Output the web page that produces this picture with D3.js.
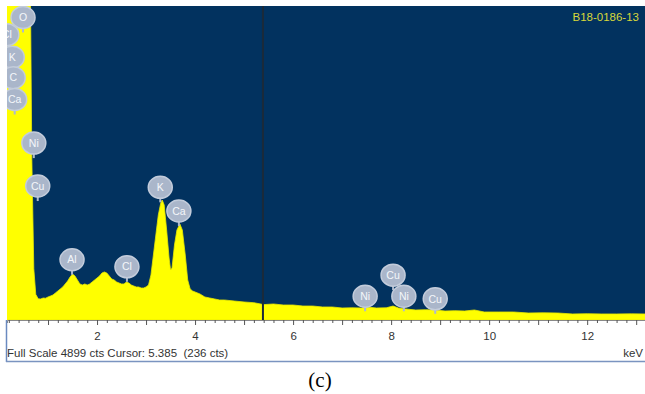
<!DOCTYPE html>
<html>
<head>
<meta charset="utf-8">
<script src="https://cdn.jsdelivr.net/npm/d3@7"></script>
<style>
  body { margin: 0; background: #fff; }
  svg { display: block; }
</style>
</head>
<body>
<svg></svg>
<script>
// spectrum (keV, counts)
const energies = [0.15, 0.25, 0.4, 0.52, 0.6, 0.64, 0.67, 0.71, 0.75, 0.8,
  0.85, 0.9, 0.95, 1.0, 1.05, 1.1, 1.15, 1.2, 1.25, 1.3, 1.35, 1.4, 1.45, 1.5,
  1.55, 1.6, 1.65, 1.7, 1.75, 1.8, 1.85, 1.9, 1.95, 2.0, 2.05, 2.1, 2.15, 2.2,
  2.25, 2.3, 2.35, 2.4, 2.45, 2.5, 2.55, 2.6, 2.65, 2.7, 2.75, 2.8, 2.85, 2.9,
  2.95, 3.0, 3.05, 3.1, 3.15, 3.2, 3.25, 3.3, 3.33, 3.37, 3.42, 3.47, 3.5, 3.53,
  3.58, 3.63, 3.69, 3.74, 3.8, 3.85, 3.9, 3.95, 4.0, 4.1, 4.2, 4.3, 4.4, 4.5,
  4.6, 4.8, 5.0, 5.2, 5.4, 5.6, 5.8, 6.0, 6.2, 6.4, 6.6, 6.8, 7.0, 7.2, 7.4,
  7.5, 7.7, 7.9, 8.04, 8.15, 8.3, 8.5, 8.7, 8.9, 9.1, 9.3, 9.5, 9.7, 9.9, 10.2,
  10.5, 10.8, 11.1, 11.4, 11.7, 12.0, 12.3, 12.6, 12.9, 13.2];
const counts = [5200, 7000, 9000, 12000, 7000, 5200, 2500, 800, 400, 330,
  328, 343, 340, 359, 374, 390, 421, 452, 484, 515, 562, 608, 671, 718,
  686, 624, 562, 546, 562, 546, 562, 593, 624, 655, 686, 733, 749, 733,
  686, 640, 624, 593, 577, 562, 562, 593, 577, 546, 530, 515, 515, 499,
  499, 515, 546, 702, 1014, 1326, 1638, 1825, 1872, 1794, 1404, 967, 780, 811,
  1170, 1404, 1498, 1404, 1014, 624, 484, 452, 437, 406, 359, 343, 328, 312,
  312, 296, 281, 270, 240, 250, 234, 234, 218, 218, 203, 203, 187, 190, 187,
  203, 187, 190, 218, 187, 172, 156, 160, 156, 140, 145, 140, 156, 125, 125,
  125, 109, 112, 109, 94, 98, 94, 94, 96, 94];

// element markers
const markerNames = ["O", "Cl", "K", "C", "Ca", "Ni", "Cu", "Al", "Cl", "K", "Ca", "Ni", "Cu", "Ni", "Cu"];
const markerEnergies = [0.49, 0.16, 0.27, 0.29, 0.32, 0.71, 0.79, 1.49, 2.61, 3.29, 3.67, 7.47, 8.04, 8.26, 8.9];
const markerHeights = [4720, 4450, 4100, 3780, 3440, 2760, 2090, 940, 830, 2070, 1700, 370, 700, 370, 330];

const majorTicks = [1, 2, 3, 4, 5, 6, 7, 8, 9, 10, 11, 12, 13];
const tickLabels = [2, 4, 6, 8, 10, 12];

const fullScale = 4899;
const cursorKeV = 5.385;

const w = 645, h = 394;
const plot = { left: 7, right: 645, top: 6, bottom: 320 };

const svg = d3.select("svg").attr("width", w).attr("height", h);

const xScale = d3.scaleLinear().domain([0.163, 13.18]).range([plot.left, plot.right]);
const yScale = d3.scaleLinear().domain([0, fullScale]).range([plot.bottom, plot.top]);

const defs = svg.append("defs");
defs.append("clipPath").attr("id", "clip")
  .append("rect")
  .attr("x", plot.left).attr("y", plot.top)
  .attr("width", plot.right - plot.left).attr("height", plot.bottom - plot.top);
defs.append("filter").attr("id", "soft")
  .append("feGaussianBlur").attr("stdDeviation", 0.6);

// background
svg.append("rect")
  .attr("x", plot.left).attr("y", plot.top)
  .attr("width", plot.right - plot.left).attr("height", plot.bottom - plot.top)
  .attr("fill", "#02325f");

const chart = svg.append("g").attr("clip-path", "url(#clip)");

const spectrum = energies.map((e, i) => [e, counts[i]]);
const area = d3.area()
  .x(d => xScale(d[0]))
  .y0(plot.bottom)
  .y1(d => yScale(d[1]));

chart.append("path")
  .datum(spectrum)
  .attr("d", area)
  .attr("fill", "#ffff00")
  .attr("stroke", "#e8e800")
  .attr("stroke-width", 0.8);

// cursor line
chart.append("line")
  .attr("x1", xScale(cursorKeV)).attr("x2", xScale(cursorKeV))
  .attr("y1", plot.top).attr("y2", plot.bottom)
  .attr("stroke", "#1b2a3a")
  .attr("stroke-width", 2);

// element markers
const markers = chart.selectAll(".marker")
  .data(markerNames.map((n, i) => ({ name: n, e: markerEnergies[i], c: markerHeights[i] })))
  .enter().append("g")
  .attr("class", "marker")
  .attr("transform", d => `translate(${xScale(d.e)}, ${yScale(d.c)})`);

markers.append("line")
  .attr("x1", 0).attr("x2", 0).attr("y1", 8).attr("y2", 15)
  .attr("stroke", "#aeb9cc").attr("stroke-width", 2);

markers.append("ellipse")
  .attr("rx", 12).attr("ry", 11)
  .attr("fill", "#aab6ca")
  .attr("stroke", "#c3ccdb")
  .attr("stroke-width", 1.5)
  .attr("filter", "url(#soft)");

markers.append("text")
  .attr("text-anchor", "middle")
  .attr("dy", "0.35em")
  .style("font-family", "Liberation Sans, Arial, sans-serif")
  .style("font-size", "10.5px")
  .attr("fill", "#f4f6fa")
  .text(d => d.name);

// sample id
svg.append("text")
  .attr("x", 639).attr("y", 21)
  .attr("text-anchor", "end")
  .style("font-family", "Liberation Sans, Arial, sans-serif")
  .style("font-size", "11.5px")
  .attr("fill", "#d8d83a")
  .text("B18-0186-13");

// x axis
const minorTicks = d3.range(1, 66).map(i => i * 0.2).filter(v => Math.abs(v - Math.round(v)) > 0.01);
svg.append("g")
  .attr("transform", `translate(0, ${plot.bottom})`)
  .call(d3.axisBottom(xScale).tickValues(minorTicks).tickSize(3).tickFormat(""))
  .call(g => g.select(".domain").attr("stroke", "#888"))
  .call(g => g.selectAll(".tick line").attr("stroke", "#555"));

svg.append("g")
  .attr("transform", `translate(0, ${plot.bottom})`)
  .call(d3.axisBottom(xScale).tickValues(majorTicks).tickSize(5)
    .tickFormat(d => tickLabels.includes(d) ? d : ""))
  .call(g => g.select(".domain").remove())
  .call(g => g.selectAll(".tick line").attr("stroke", "#555"))
  .call(g => g.selectAll(".tick text")
    .attr("y", 12)
    .attr("fill", "#333")
    .style("font-family", "Liberation Sans, Arial, sans-serif")
    .style("font-size", "11.5px"));

// status line
svg.append("text")
  .attr("x", 7).attr("y", 357)
  .style("font-family", "Liberation Sans, Arial, sans-serif")
  .style("font-size", "11.5px")
  .attr("fill", "#333")
  .attr("xml:space", "preserve")
  .text(`Full Scale ${fullScale} cts Cursor: ${cursorKeV}  (236 cts)`);

svg.append("text")
  .attr("x", 643).attr("y", 357)
  .attr("text-anchor", "end")
  .style("font-family", "Liberation Sans, Arial, sans-serif")
  .style("font-size", "11.5px")
  .attr("fill", "#333")
  .text("keV");

// frame lines
svg.append("line")
  .attr("x1", 6.5).attr("x2", 6.5).attr("y1", plot.bottom).attr("y2", 362)
  .attr("stroke", "#6a8ac0").attr("stroke-width", 1.5);
svg.append("line")
  .attr("x1", 6).attr("x2", 645).attr("y1", 361.5).attr("y2", 361.5)
  .attr("stroke", "#7a94c0").attr("stroke-width", 1.5);

// caption
svg.append("text")
  .attr("x", 320).attr("y", 387)
  .attr("text-anchor", "middle")
  .style("font-family", "Liberation Serif, Times New Roman, serif")
  .style("font-size", "21px")
  .attr("fill", "#000")
  .text("(c)");
</script>
</body>
</html>
